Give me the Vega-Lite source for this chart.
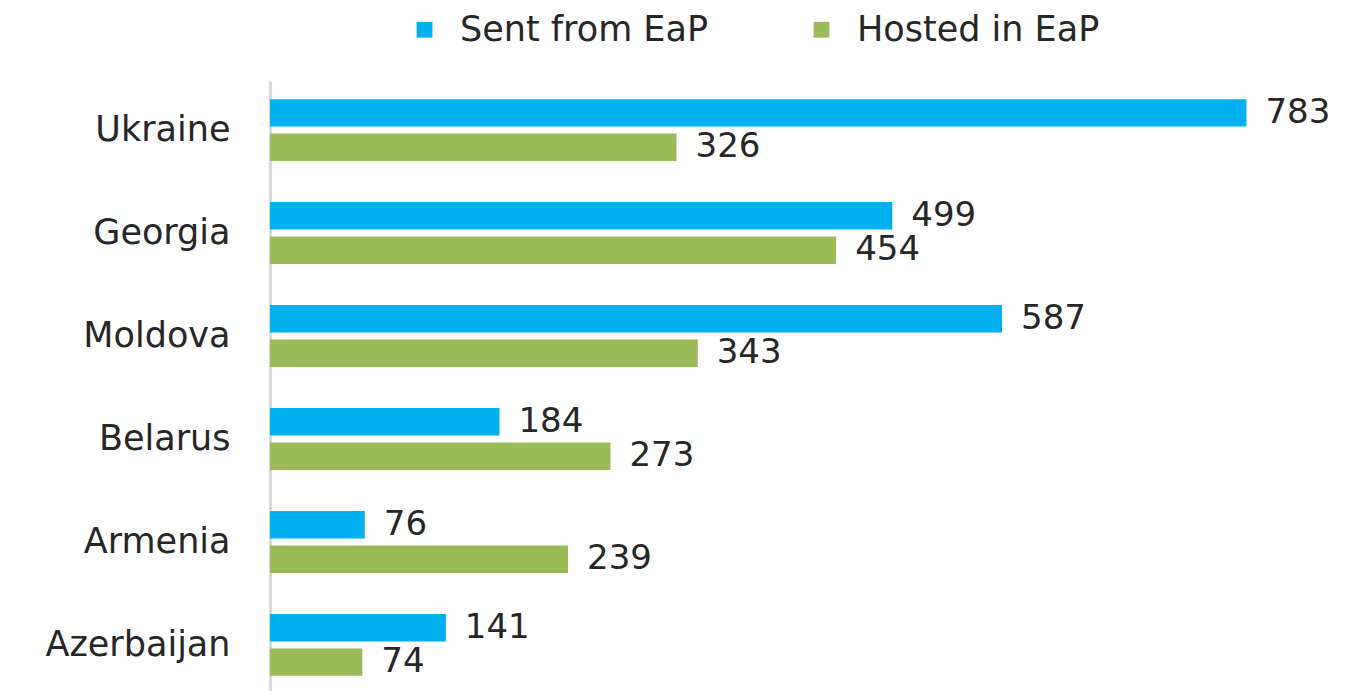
{
  "$schema": "https://vega.github.io/schema/vega-lite/v6.json",
  "autosize": {"type": "none"},
  "width": 1060,
  "height": 613,
  "padding": {"left": 270, "top": 81, "right": 15, "bottom": 0},
  "background": "white",
  "data": {
    "values": [
      {"country": "Ukraine", "series": "Sent from EaP", "value": 783},
      {"country": "Ukraine", "series": "Hosted in EaP", "value": 326},
      {"country": "Georgia", "series": "Sent from EaP", "value": 499},
      {"country": "Georgia", "series": "Hosted in EaP", "value": 454},
      {"country": "Moldova", "series": "Sent from EaP", "value": 587},
      {"country": "Moldova", "series": "Hosted in EaP", "value": 343},
      {"country": "Belarus", "series": "Sent from EaP", "value": 184},
      {"country": "Belarus", "series": "Hosted in EaP", "value": 273},
      {"country": "Armenia", "series": "Sent from EaP", "value": 76},
      {"country": "Armenia", "series": "Hosted in EaP", "value": 239},
      {"country": "Azerbaijan", "series": "Sent from EaP", "value": 141},
      {"country": "Azerbaijan", "series": "Hosted in EaP", "value": 74}
    ]
  },
  "encoding": {
    "y": {
      "field": "country",
      "type": "nominal",
      "sort": null,
      "title": null,
      "scale": {"paddingInner": 0.4, "paddingOuter": 0.176},
      "axis": {
        "ticks": false,
        "labelPadding": 40,
        "labelFont": "DejaVu Sans",
        "labelFontSize": 35,
        "labelColor": "#262626",
        "labelLimit": 400,
        "domainColor": "#d9d9d9",
        "domainWidth": 3
      }
    },
    "yOffset": {
      "field": "series",
      "type": "nominal",
      "sort": ["Sent from EaP", "Hosted in EaP"],
      "scale": {"paddingInner": 0.2}
    },
    "x": {
      "field": "value",
      "type": "quantitative",
      "scale": {"domain": [0, 850]},
      "axis": null
    }
  },
  "layer": [
    {
      "mark": {"type": "bar"},
      "encoding": {
        "color": {
          "field": "series",
          "type": "nominal",
          "scale": {"domain": ["Sent from EaP", "Hosted in EaP"], "range": ["#00b0f0", "#9bbb59"]},
          "legend": {
            "title": null,
            "orient": "none",
            "direction": "horizontal",
            "legendX": 137,
            "legendY": -69,
            "padding": 0,
            "symbolType": "square",
            "symbolSize": 250,
            "symbolStrokeWidth": 0,
            "labelFont": "DejaVu Sans",
            "labelFontSize": 35,
            "labelColor": "#262626",
            "labelOffset": 18,
            "columnPadding": 95,
            "labelLimit": 500
          }
        }
      }
    },
    {
      "mark": {
        "type": "text",
        "align": "left",
        "baseline": "middle",
        "dx": 19,
        "font": "DejaVu Sans",
        "fontSize": 34,
        "color": "#262626"
      },
      "encoding": {
        "text": {"field": "value", "type": "quantitative"}
      }
    }
  ],
  "config": {"view": {"stroke": null}}
}
